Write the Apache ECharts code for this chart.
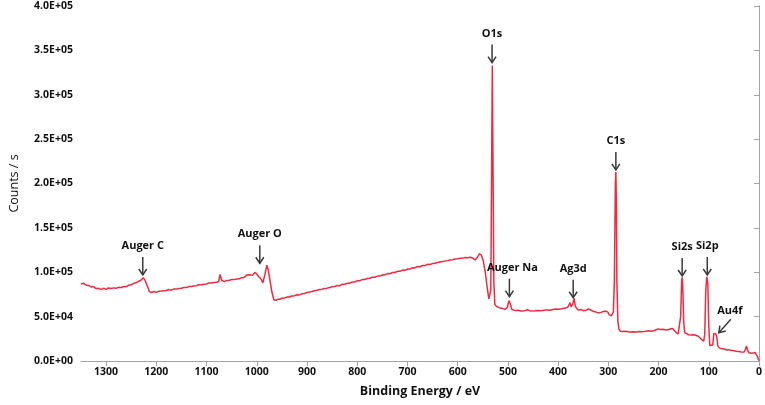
<!DOCTYPE html>
<html>
<head>
<meta charset="utf-8">
<script src="https://cdn.jsdelivr.net/npm/echarts@6/dist/echarts.min.js"></script>
<style>
html,body{margin:0;padding:0;background:#fff;}
#chart{width:765px;height:405px;}
</style>
</head>
<body>
<div id="chart"></div>
<script>
// Binding energy (eV) of each spectrum point
const energy = [
1350,1345,1340,1335,1330,1325,1320,1315,1310,1305,1300,1295,1290,1285,1280,1275,1270,1265,1260,1255,
1250,1245,1240,1235,1230,1226,1222,1218,1214,1210,1205,1200,1195,1190,1185,1180,1175,1170,1165,1160,
1155,1150,1145,1140,1135,1130,1125,1120,1115,1110,1105,1100,1095,1090,1085,1080,1076,1073,1070,1065,
1060,1055,1050,1045,1040,1035,1030,1025,1020,1016,1012,1008,1004,1000,996,992,988,984,980,977,
974,970,966,962,958,954,950,945,940,935,930,925,920,915,910,905,900,895,890,885,880,875,870,865,860,855,850,845,840,835,830,825,820,815,810,805,
800,795,790,785,780,775,770,765,760,755,750,745,740,735,730,725,720,715,710,705,700,695,690,685,680,675,670,665,660,655,650,645,640,635,630,625,620,615,610,605,
600,595,590,585,580,575,570,565,561,557,553,549,545,541,538,536,534,532,531,530,528,526,
523,520,515,510,505,501,498,497,495,492,488,484,480,475,470,465,461,459,457,452,
446,440,434,428,422,416,410,404,398,392,386,381,378,376,374,371,368,366,364,360,
355,350,345,340,338,335,330,325,320,315,310,305,301,298,294,292,290,288,286,285,
284,283,281,279,276,272,265,258,250,244,238,232,226,220,214,208,204,200,196,190,
185,180,176,172,169,165,161,158,156,154,153,152,150,148,145,140,135,130,126,122,
118,114,112,110,108,106,104,103,102,100,98,95,92,90,88,86,84,82,79,76,
72,68,64,60,56,50,45,40,35,30,27,25,23,20,16,12,8,5,3,1,0
];
// Counts per second at each energy
const counts = [
86500,87800,85500,85200,83600,83800,81600,81900,80400,81900,80700,82300,81800,82400,81900,83000,82700,84000,83800,85400,
85800,87500,88200,89900,91300,93900,90500,84500,78500,77000,78300,77400,78700,78800,79200,79400,80500,79800,81200,81000,
81700,81900,82900,82700,83900,84000,84500,84900,85900,86000,86600,86800,87900,87800,88400,88700,89600,97500,91000,89400,
90600,90800,91900,91700,92300,92600,93900,94200,96800,97200,96800,96700,99800,98000,95000,93000,88000,97000,108000,102000,
92000,78000,69000,68300,69700,69600,70800,70900,72100,72100,73300,73500,74600,74500,75900,76100,77200,77700,78300,79200,79600,80600,80800,81800,82100,82800,83600,83900,85000,84800,86400,86400,87600,87700,89100,88900,
90500,90500,91700,91900,93000,93300,94300,94400,95700,95700,97100,97000,98500,98300,99800,99700,101000,101000,102400,102200,103800,103600,105100,104900,106500,106200,107600,107500,108900,108600,109900,110200,111000,111600,112000,112800,113100,113800,114100,115000,
115300,115700,115900,116600,116300,116900,116000,113800,116500,120800,119500,113000,100000,82000,70000,68500,80000,250000,333000,250000,90000,64000,
61500,60800,59600,59000,58400,60500,68000,70000,64000,58000,57300,56800,57100,56400,56200,56800,57800,59000,56700,56200,
56500,56900,56700,57200,57600,57300,58100,58500,58300,59000,59600,60500,62500,65700,61000,64000,70700,62500,60000,57500,
58000,56800,57000,58600,59400,57500,56000,55300,54200,54800,55700,56300,55000,52000,51000,49500,55000,90000,200000,213000,
180000,90000,45000,36000,33500,33200,33600,32800,33000,32600,33300,33000,33400,34000,33600,34400,35500,36200,35400,35800,
35000,35400,36300,36500,34500,32000,30500,31500,50000,90000,94300,88000,45000,32000,30500,29600,29200,29600,29000,28200,
26500,24000,21800,22500,30000,80000,95000,95000,88000,40000,17500,16500,18000,31000,29000,30500,27000,17000,14500,14000,
13800,13200,12400,12800,12000,11600,11000,10600,10200,10000,13000,17000,12500,9200,8700,9000,9600,9000,5000,1500,500
];
// Peak annotations: label, energy where the arrow points, count level of the arrow tip
const annLabels = ['Auger C','Auger O','O1s','Auger Na','Ag3d','C1s','Si2s','Si2p','Au4f'];
const annEnergy = [1227, 994, 531.5, 497, 370, 285, 153, 103, 80];
const annCounts = [96900, 110100, 336200, 72500, 71300, 215300, 95800, 96900, 31900];
// Axis ranges
const yMin = 0, yMax = 400000, yStep = 50000;
const xMin = 0, xMax = 1350, xStep = 100;

function sci(v){
  if (v === 0) return '0.0E+00';
  const e = Math.floor(Math.log10(v) + 1e-9);
  const m = v / Math.pow(10, e);
  return m.toFixed(1) + 'E+' + String(e).padStart(2, '0');
}

const FONT = '"Open Sans", sans-serif';
const AXIS_COLOR = '#a3a3a3';
const TEXT_COLOR = '#111';
const ARROW_COLOR = '#3a3a3a';

// arrow style tweaks per label (angle from vertical, text offset)
const annStyle = {
  'Auger Na': {dx: 3},
  'Au4f': {angle: 42, textDx: 11, textDy: -22}
};

const chart = echarts.init(document.getElementById('chart'), null, {renderer: 'canvas'});
const lineData = energy.map((e, i) => [e, counts[i]]);
const annData = annEnergy.map((e, i) => [e, annCounts[i], i]);

chart.setOption({
  animation: false,
  backgroundColor: '#fff',
  grid: {left: 78, right: 5, top: 6, bottom: 44, containLabel: false},
  xAxis: {
    type: 'value', inverse: true, min: xMin, max: xMax, interval: xStep,
    name: 'Binding Energy / eV', nameLocation: 'middle', nameGap: 24,
    nameTextStyle: {fontFamily: FONT, fontWeight: 'bold', fontSize: 12.5, color: TEXT_COLOR},
    axisLine: {show: true, onZero: false, lineStyle: {color: AXIS_COLOR, width: 1}},
    axisTick: {show: true, inside: false, length: 5, lineStyle: {color: AXIS_COLOR}},
    axisLabel: {fontFamily: FONT, fontWeight: 'bold', fontSize: 10.5, color: TEXT_COLOR, margin: 6, showMaxLabel: false,
      formatter: function (v) { return String(v); }},
    splitLine: {show: false}
  },
  yAxis: [{
    type: 'value', min: yMin, max: yMax, interval: yStep,
    name: 'Counts / s', nameLocation: 'middle', nameGap: 60,
    nameTextStyle: {fontFamily: FONT, fontSize: 12.5, color: TEXT_COLOR},
    axisLine: {show: true, lineStyle: {color: AXIS_COLOR, width: 1}},
    axisTick: {show: true, inside: false, length: 5, lineStyle: {color: AXIS_COLOR}},
    axisLabel: {fontFamily: FONT, fontWeight: 'bold', fontSize: 10.5, color: TEXT_COLOR, margin: 8, formatter: sci},
    splitLine: {show: false}
  }, {
    type: 'value', position: 'right', min: yMin, max: yMax, interval: yStep,
    axisLine: {show: true, lineStyle: {color: AXIS_COLOR, width: 1}},
    axisTick: {show: false}, axisLabel: {show: false}, splitLine: {show: false}
  }],
  series: [{
    type: 'line', data: lineData, showSymbol: false, symbol: 'none', sampling: false,
    lineStyle: {color: '#f02a40', width: 1.5}, z: 2
  }, {
    type: 'custom', data: annData, z: 5, silent: true,
    encode: {x: 0, y: 1},
    renderItem: function (params, api) {
      const idx = api.value(2);
      const label = annLabels[idx];
      const st = annStyle[label] || {};
      const p = api.coord([api.value(0), api.value(1)]);
      const L = 18, H = 6, W = 4;
      const a = (st.angle || 0) * Math.PI / 180;
      const ux = Math.sin(a), uy = -Math.cos(a); // from tip towards tail
      const tip = [p[0], p[1]];
      const tail = [tip[0] + ux * L, tip[1] + uy * L];
      const bx = tip[0] + ux * H, by = tip[1] + uy * H;
      const px = -uy, py = ux; // perpendicular
      const h1 = [bx + px * W, by + py * W], h2 = [bx - px * W, by - py * W];
      let tx, ty;
      if (st.angle) { tx = tip[0] + st.textDx; ty = tip[1] + st.textDy; }
      else { tx = tip[0] + (st.dx || 0); ty = tail[1] - 11; }
      return {
        type: 'group',
        children: [
          {type: 'line', shape: {x1: tail[0], y1: tail[1], x2: tip[0], y2: tip[1]},
           style: {stroke: ARROW_COLOR, lineWidth: 1.5}},
          {type: 'polyline', shape: {points: [h1, tip, h2]},
           style: {stroke: ARROW_COLOR, lineWidth: 1.5, fill: null}},
          {type: 'text', x: tx, y: ty,
           style: {text: label, fill: TEXT_COLOR, font: 'bold 11px ' + FONT, align: 'center', verticalAlign: 'middle'}}
        ]
      };
    }
  }]
});
</script>
</body>
</html>
